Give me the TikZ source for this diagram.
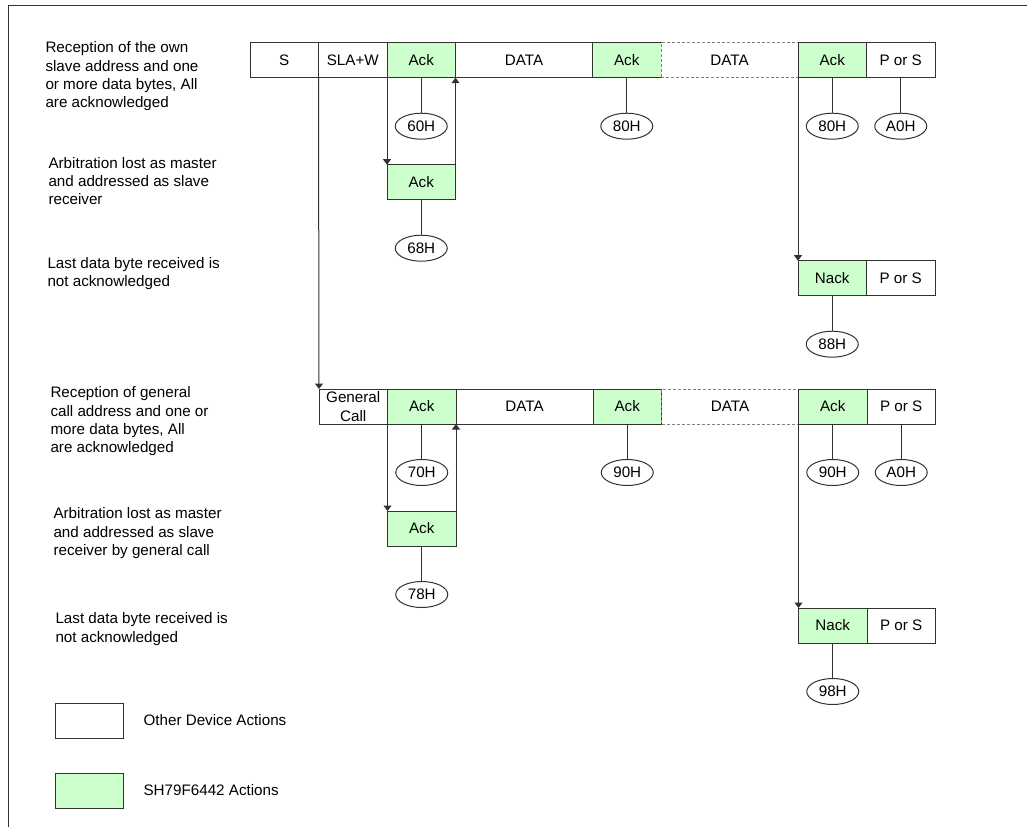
\documentclass[tikz,border=0pt]{standalone}
\usepackage{fontspec}
\setmainfont{Liberation Sans}
\usepackage{tikz}
\usetikzlibrary{positioning,arrows.meta,shapes.geometric}
\definecolor{ackgreen}{RGB}{204,255,204}
\definecolor{linec}{RGB}{50,50,50}

\begin{document}
\begin{tikzpicture}[x=1pt, y=-1pt, line width=1pt,
    txt/.style={font=\fontsize{15.2}{18.3}\selectfont},
    cell/.style={draw=linec, txt, minimum height=35pt, minimum width=68.5pt, inner sep=0pt, outer sep=0pt, fill=white},
    ours/.style={cell, fill=ackgreen},
    data/.style={cell, minimum width=137pt},
    gap/.style={data, draw=gray, dash pattern=on 3pt off 2pt},
    code/.style={draw=linec, ellipse, txt, minimum width=52pt, minimum height=26pt, inner sep=0pt},
    note/.style={txt, align=left, anchor=north west, inner sep=0pt},
    wire/.style={draw=linec},
    flow/.style={draw=linec, -{Triangle[width=8pt,length=5.5pt]}}]
  \useasboundingbox (0,0) rectangle (1027,827);
  \draw[linec] (8,827) -- (8,5) -- (1027,5);

  % own slave address
  \node[cell] (s) at (284.25,60.2) {S};
  \node[cell, right=0pt of s] (sla) {SLA+W};
  \node[ours, right=0pt of sla] (ack1) {Ack};
  \node[data, right=0pt of ack1] (dat1) {DATA};
  \node[ours, right=0pt of dat1] (ack2) {Ack};
  \node[gap, right=0pt of ack2] (dat2) {DATA};
  \node[ours, right=0pt of dat2] (ack3) {Ack};
  \node[cell, right=0pt of ack3] (pos1) {P or S};
  \node[ours, below=87pt of ack1] (ack1b) {Ack};
  \node[ours, below=183pt of ack3] (nack1) {Nack};
  \node[cell, right=0pt of nack1] (pos2) {P or S};

  % general call address
  \node[cell, align=center] (gc) at (353.25,406.5) {General\\Call};
  \node[ours, right=0pt of gc] (ack4) {Ack};
  \node[data, right=0pt of ack4] (dat3) {DATA};
  \node[ours, right=0pt of dat3] (ack5) {Ack};
  \node[gap, right=0pt of ack5] (dat4) {DATA};
  \node[ours, right=0pt of dat4] (ack6) {Ack};
  \node[cell, right=0pt of ack6] (pos3) {P or S};
  \node[ours, below=87pt of ack4] (ack4b) {Ack};
  \node[ours, below=184pt of ack6] (nack2) {Nack};
  \node[cell, right=0pt of nack2] (pos4) {P or S};

  % status codes
  \foreach \n/\a/\t in {h60/ack1/60H, h80/ack2/80H, h80b/ack3/80H, ha0/pos1/A0H,
                        h68/ack1b/68H, h88/nack1/88H,
                        h70/ack4/70H, h90/ack5/90H, h90b/ack6/90H, ha0b/pos3/A0H,
                        h78/ack4b/78H, h98/nack2/98H}
  {
    \node[code, below=35pt of \a] (\n) {\t};
    \draw[wire] (\a) -- (\n);
  }

  \draw[flow] (ack1.south west) -- (ack1b.north west);
  \draw[flow] (ack1b.north east) -- (ack1.south east);
  \draw[flow] (ack3.south west) -- (nack1.north west);
  \draw[flow] (sla.south west) -- (gc.north west);
  \draw[flow] (ack4.south west) -- (ack4b.north west);
  \draw[flow] (ack4b.north east) -- (ack4.south east);
  \draw[flow] (ack6.south west) -- (nack2.north west);

  % descriptions
  \node[note] (n1) at (45,41.2) {Reception of the own\\slave address and one\\or more data bytes, All\\are acknowledged};
  \node[note] (n2) at (48,156.5) {Arbitration lost as master\\and addressed as slave\\receiver};
  \node[note] (n3) at (47,256.5) {Last data byte received is\\not acknowledged};
  \node[note] (n4) at (50,386.2) {Reception of general\\call address and one or\\more data bytes, All\\are acknowledged};
  \node[note] (n5) at (53,507.2) {Arbitration lost as master\\and addressed as slave\\receiver by general call};
  \node[note] (n6) at (55,612.2) {Last data byte received is\\not acknowledged};

  % legend
  \node[cell] (key1) at (89.5,720.5) {};
  \node[ours] (key2) at (89.5,790.5) {};
  \node[txt, right=16pt of key1] (lab1) {Other Device Actions};
  \node[txt, right=16pt of key2] (lab2) {SH79F6442 Actions};
\end{tikzpicture}
\end{document}
